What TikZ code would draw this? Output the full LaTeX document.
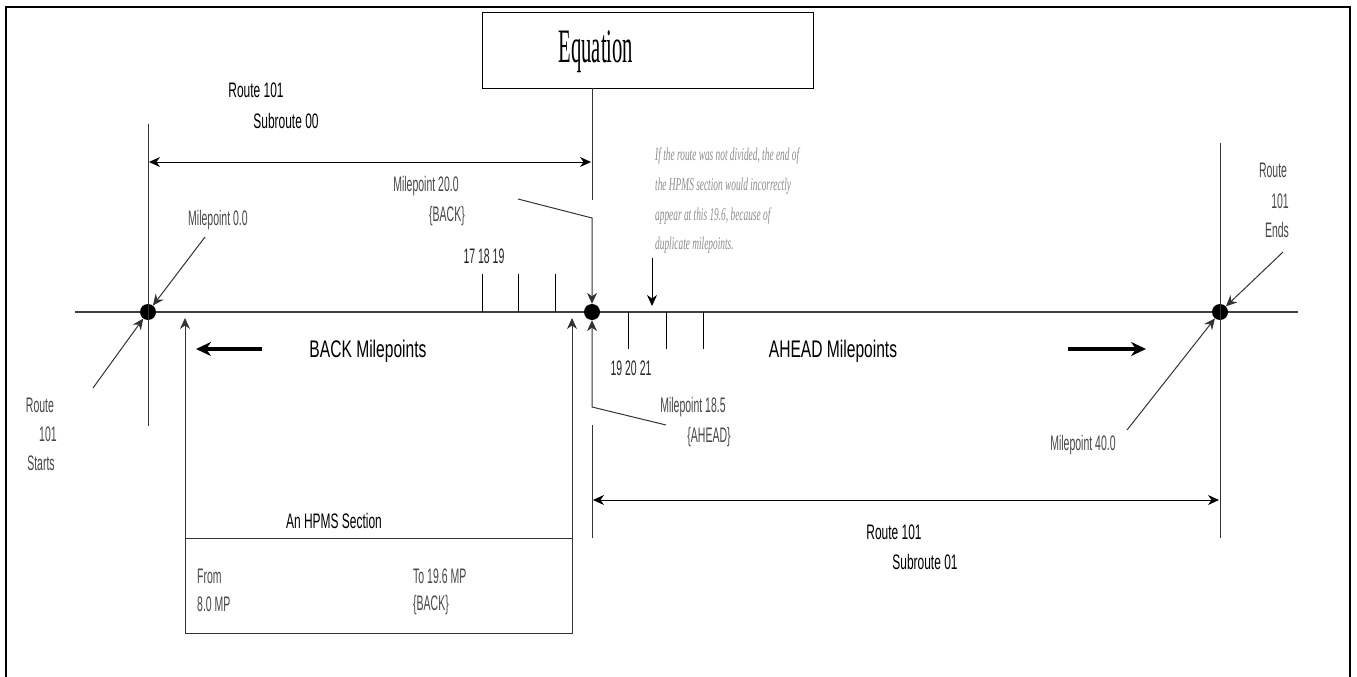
\documentclass[tikz,border=0pt]{standalone}
\usepackage{fontspec}
\usetikzlibrary{arrows.meta}
\newfontfamily\labf[FakeStretch=0.5]{Liberation Sans}
\newfontfamily\rtf[FakeStretch=0.57]{Liberation Sans}
\newfontfamily\bigf[FakeStretch=0.65]{Liberation Sans}
\newfontfamily\notef[FakeStretch=0.52]{Liberation Serif}
\newfontfamily\eqf[FakeStretch=0.43]{Liberation Serif}
\begin{document}
\begin{tikzpicture}[x=1pt,y=-1pt,
  lab/.style={font=\labf\fontsize{21}{24}\selectfont, text=black!72, inner sep=0pt, anchor=base},
  rt/.style={font=\rtf\fontsize{21}{24}\selectfont, text=black, inner sep=0pt, anchor=base},
  bigl/.style={font=\bigf\fontsize{24}{28}\selectfont, text=black, inner sep=0pt, anchor=base},
  note/.style={font=\notef\itshape\fontsize{18}{22}\selectfont, text=black!45, inner sep=0pt, anchor=base west},
  ln/.style={line width=1pt, draw=black!80},
  tip/.style={-{Stealth[length=11pt,width=10pt]}},
  dtip/.style={{Stealth[length=11pt,width=10pt]}-{Stealth[length=11pt,width=10pt]}},
  bold/.style={line width=3.5pt, -{Stealth[length=15pt,width=14pt]}},
  dot/.style={circle, fill=black, inner sep=0pt, minimum size=16pt}]
\useasboundingbox (0,0) rectangle (1357,677);
% frame
\draw[line width=2pt] (6,677) -- (6,7) -- (1350,7) -- (1350,677);

% Equation box
\node[draw, line width=1pt, minimum width=331pt, minimum height=76pt, inner sep=0pt, anchor=north west] (eqbox) at (482,12) {};
\node[font=\eqf\fontsize{48}{52}\selectfont, inner sep=0pt, anchor=base] (eq) at (596,63) {Equation};

% main line and dots
\coordinate (lineL) at (75,312);
\coordinate (lineR) at (1298,312);
\draw[line width=1.3pt, black!75] (lineL) -- (lineR);
\node[dot] (dL) at (148,312) {};
\node[dot] (dM) at (592,312) {};
\node[dot] (dR) at (1220,312) {};

% verticals
\coordinate (vLt) at (148,124); \coordinate (vLb) at (148,426);
\draw[ln] (vLt) -- (vLb);
\coordinate (vRt) at (1220,143); \coordinate (vRb) at (1220,538);
\draw[ln] (vRt) -- (vRb);
\coordinate (vMt) at (592,88); \coordinate (vMm) at (592,200);
\draw[ln] (vMt) -- (vMm);
\coordinate (vMl) at (592,425); \coordinate (vMb) at (592,538);
\draw[ln] (vMl) -- (vMb);

% dimension arrows
\coordinate (a00l) at (149,162); \coordinate (a00r) at (591,162);
\draw[ln, black, dtip] (a00l) -- (a00r);
\coordinate (a01l) at (593,500); \coordinate (a01r) at (1219,500);
\draw[ln, black, dtip] (a01l) -- (a01r);

% route labels
\node[rt] (r00a) at (256,97) {Route 101};
\node[rt] (r00b) at (286,128) {Subroute 00};
\node[rt] (r01a) at (894,539) {Route 101};
\node[rt] (r01b) at (925,569) {Subroute 01};

% milepoint labels and leaders
\node[lab] (mp0) at (218,225) {Milepoint 0.0};
\coordinate (mp0s) at (205,237);
\draw[ln, tip] (mp0s) -- (dL);

\node[lab] (st1) at (40,412) {Route};
\node[lab] (st2) at (48,441) {101};
\node[lab] (st3) at (41,470) {Starts};
\coordinate (sts) at (93,388);
\draw[ln, tip] (sts) -- (dL);

\node[lab] (en1) at (1273,177) {Route};
\node[lab] (en2) at (1280,208) {101};
\node[lab] (en3) at (1277,237) {Ends};
\coordinate (ens) at (1283,252);
\draw[ln, tip] (ens) -- (dR);

\node[lab] (mp40) at (1083,450) {Milepoint 40.0};
\coordinate (mp40s) at (1127,430);
\draw[ln, tip] (mp40s) -- (dR);

\node[lab] (mp20) at (426,191) {Milepoint 20.0};
\node[lab] (mp20b) at (447,221) {\{BACK\}};
\coordinate (mp20s) at (518,199); \coordinate (mp20c) at (592,218);
\draw[ln, tip] (mp20s) -- (mp20c) -- (dM);

\node[lab] (mp185) at (693,412) {Milepoint 18.5};
\node[lab] (mp185b) at (709,442) {\{AHEAD\}};
\coordinate (mp185s) at (666,425); \coordinate (mp185c) at (592,407);
\draw[ln, tip] (mp185s) -- (mp185c) -- (dM);

% ticks
\foreach \n/\x in {t17/482, t18/518, t19/555} {
  \coordinate (\n a) at (\x,274); \coordinate (\n b) at (\x,312);
  \draw[ln, black] (\n a) -- (\n b);
}
\foreach \n/\x in {u19/628, u20/666, u21/703} {
  \coordinate (\n a) at (\x,312); \coordinate (\n b) at (\x,349);
  \draw[ln, black] (\n a) -- (\n b);
}
\node[lab, text=black!85] (n171819) at (484,263) {17 18 19};
\node[lab, text=black!85] (n192021) at (631,375) {19 20 21};

% note
\node[note] (nt1) at (655,160) {If the route was not divided, the end of};
\node[note] (nt2) at (655,190) {the HPMS section would incorrectly};
\node[note] (nt3) at (655,220) {appear at this 19.6, because of};
\node[note] (nt4) at (655,249) {duplicate milepoints.};
\coordinate (nta) at (652,258); \coordinate (ntb) at (652,306);
\draw[ln, black, tip] (nta) -- (ntb);

% direction labels
\node[bigl] (backmp) at (368,357) {BACK Milepoints};
\node[bigl] (aheadmp) at (833,357) {AHEAD Milepoints};
\coordinate (bk1) at (262,349); \coordinate (bk2) at (196,349);
\draw[bold] (bk1) -- (bk2);
\coordinate (ah1) at (1068,349); \coordinate (ah2) at (1146,349);
\draw[bold] (ah1) -- (ah2);

% HPMS section
\coordinate (hbl) at (185,633); \coordinate (hbr) at (572,633);
\coordinate (htl) at (185,538); \coordinate (htr) at (572,538);
\coordinate (hal) at (185,318); \coordinate (har) at (572,318);
\draw[ln] (htl) -- (hbl) -- (hbr) -- (htr) -- cycle;
\draw[ln, tip] (htl) -- (hal);
\draw[ln, tip] (htr) -- (har);
\node[rt] (hpms) at (334,528) {An HPMS Section};
\node[lab, anchor=base west] (from1) at (197,583) {From};
\node[lab, anchor=base west] (from2) at (197,611) {8.0 MP};
\node[lab, anchor=base west] (to1) at (413,583) {To 19.6 MP};
\node[lab, anchor=base west] (to2) at (413,610) {\{BACK\}};
\end{tikzpicture}
\end{document}
